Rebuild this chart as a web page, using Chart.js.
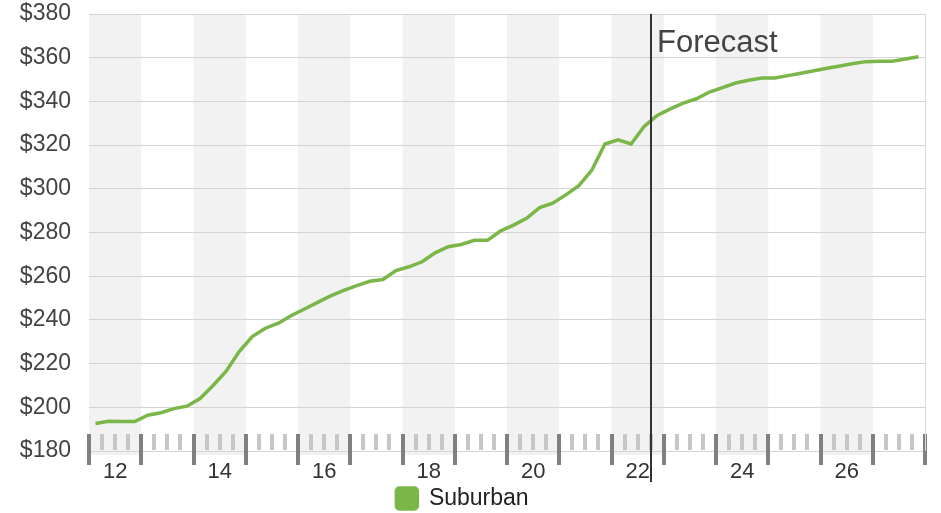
<!DOCTYPE html>
<html>
<head>
<meta charset="utf-8">
<script src="https://cdn.jsdelivr.net/npm/chart.js@4.4.1/dist/chart.umd.min.js"></script>
<style>
  html, body { margin: 0; padding: 0; background: #fff; }
  #wrap { width: 941px; height: 513px; }
</style>
</head>
<body>
<div id="wrap"><canvas id="salesChart"></canvas></div>
<script>
// quarter mid-points, in years
const periods = [
  11.625, 11.875, 12.125, 12.375, 12.625, 12.875, 13.125, 13.375,
  13.625, 13.875, 14.125, 14.375, 14.625, 14.875, 15.125, 15.375,
  15.625, 15.875, 16.125, 16.375, 16.625, 16.875, 17.125, 17.375,
  17.625, 17.875, 18.125, 18.375, 18.625, 18.875, 19.125, 19.375,
  19.625, 19.875, 20.125, 20.375, 20.625, 20.875, 21.125, 21.375,
  21.625, 21.875, 22.125, 22.375, 22.625, 22.875, 23.125, 23.375,
  23.625, 23.875, 24.125, 24.375, 24.625, 24.875, 25.125, 25.375,
  25.625, 25.875, 26.125, 26.375, 26.625, 26.875, 27.125, 27.375
];
const suburban = [
  192.6, 193.6, 193.5, 193.5, 196.4, 197.5, 199.4, 200.5,
  204.0, 210.0, 216.5, 225.5, 232.4, 236.2, 238.5, 242.0,
  245.0, 248.0, 251.0, 253.5, 255.7, 257.7, 258.5, 262.6,
  264.3, 266.6, 270.7, 273.5, 274.5, 276.4, 276.4, 280.7,
  283.4, 286.5, 291.4, 293.4, 297.2, 301.4, 308.6, 320.5,
  322.4, 320.5, 328.5, 333.6, 336.6, 339.2, 341.2, 344.3,
  346.3, 348.4, 349.7, 350.7, 350.7, 351.8, 352.9, 354.0,
  355.2, 356.2, 357.3, 358.2, 358.4, 358.4, 359.4, 360.4
];
const yearLabels = [12, 14, 16, 18, 20, 22, 24, 26];
const shadedYears = [12, 14, 16, 18, 20, 22, 24, 26];
const forecastStart = 22.25;
const forecastLabel = 'Forecast';

const xMin = 11.5, xMax = 27.5;
const green = '#7ab648';

const decorPlugin = {
  id: 'decor',
  beforeDraw(chart) {
    const { ctx, chartArea, scales: { x } } = chart;
    ctx.save();
    ctx.fillStyle = '#f2f2f2';
    shadedYears.forEach(yr => {
      const l = x.getPixelForValue(yr - 0.5);
      const r = x.getPixelForValue(yr + 0.5);
      ctx.fillRect(l, chartArea.top, r - l, chartArea.bottom - chartArea.top + 4);
    });
    ctx.restore();
  },
  afterDraw(chart) {
    const { ctx, chartArea, scales: { x } } = chart;
    ctx.save();
    // quarter / year tick marks
    x.ticks.forEach(t => {
      const px = Math.round(x.getPixelForValue(t.value));
      const major = Math.abs((t.value - xMin) - Math.round(t.value - xMin)) < 1e-6;
      ctx.fillStyle = major ? '#808080' : '#c6c6c6';
      const h = major ? 31 : 16;
      ctx.fillRect(px - 2, chartArea.bottom - 17, 4, h);
    });
    // right border
    ctx.strokeStyle = '#dcdcdc';
    ctx.lineWidth = 1;
    ctx.beginPath();
    ctx.moveTo(chartArea.right + 0.5, chartArea.top);
    ctx.lineTo(chartArea.right + 0.5, chartArea.bottom);
    ctx.stroke();
    // forecast marker
    const fx = Math.round(x.getPixelForValue(forecastStart));
    ctx.strokeStyle = '#333';
    ctx.lineWidth = 2;
    ctx.beginPath();
    ctx.moveTo(fx, chartArea.top);
    ctx.lineTo(fx, chartArea.bottom + 31);
    ctx.stroke();
    ctx.fillStyle = '#444';
    ctx.font = '31px "Liberation Sans", Arial, sans-serif';
    ctx.textBaseline = 'alphabetic';
    ctx.fillText(forecastLabel, fx + 6, chartArea.top + 38);
    ctx.restore();
  }
};

const ctx = document.getElementById('salesChart').getContext('2d');
new Chart(ctx, {
  type: 'line',
  data: {
    datasets: [{
      label: 'Suburban',
      data: periods.map((p, i) => ({ x: p, y: suburban[i] })),
      borderColor: green,
      backgroundColor: green,
      borderWidth: 3.5,
      pointRadius: 0,
      tension: 0
    }]
  },
  options: {
    responsive: true,
    maintainAspectRatio: false,
    animation: false,
    layout: { padding: { top: 14, right: 16, left: 0, bottom: -7 } },
    plugins: {
      tooltip: { enabled: false },
      legend: {
        position: 'bottom',
        labels: {
          boxWidth: 21,
          boxHeight: 21,
          useBorderRadius: true,
          borderRadius: 3,
          padding: 5,
          color: '#222',
          font: { family: '"Liberation Sans", Arial, sans-serif', size: 23, lineHeight: 1 }
        }
      }
    },
    scales: {
      x: {
        type: 'linear',
        min: xMin,
        max: xMax,
        afterBuildTicks(scale) {
          const t = [];
          for (let v = xMin; v <= xMax + 1e-9; v += 0.25) t.push({ value: v });
          scale.ticks = t;
        },
        afterFit(scale) { scale.height = 31; },
        grid: { display: false, drawTicks: false },
        border: { display: false },
        ticks: {
          autoSkip: false,
          maxRotation: 0,
          padding: 8,
          color: '#333',
          font: { family: '"Liberation Sans", Arial, sans-serif', size: 22 },
          callback(v) {
            const lab = yearLabels.find(y => Math.abs(y - v) < 1e-6);
            return lab === undefined ? '' : String(lab);
          }
        }
      },
      y: {
        min: 180,
        max: 380,
        afterFit(scale) {
          scale.width = 89;
          scale.paddingTop = 0;
          scale.paddingBottom = 0;
        },
        grid: { color: '#d4d4d4', drawTicks: false },
        border: { display: false },
        ticks: {
          stepSize: 20,
          padding: 18,
          color: '#444',
          font: { family: '"Liberation Sans", Arial, sans-serif', size: 23 },
          callback: v => '$' + v
        }
      }
    }
  },
  plugins: [decorPlugin]
});
</script>
</body>
</html>
